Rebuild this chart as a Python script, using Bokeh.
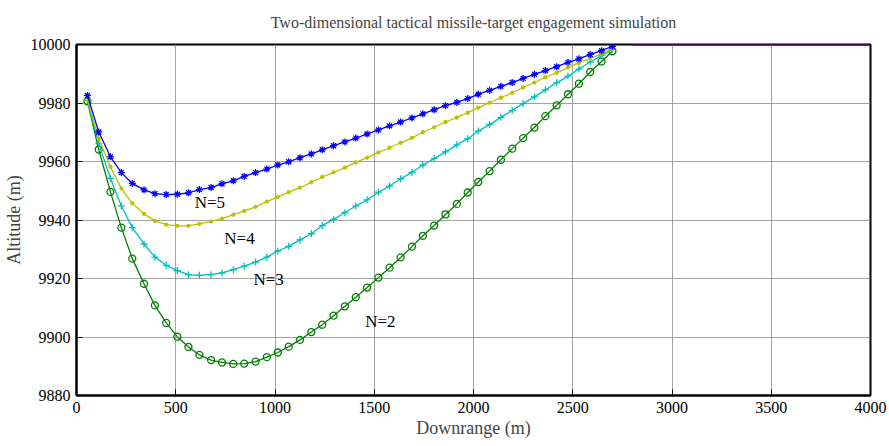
from bokeh.plotting import figure
from bokeh.models import (SingleIntervalTicker, FixedTicker, ColumnDataSource, Range1d,
                          LinearAxis)
from bokeh.core.properties import value
from bokeh.embed import file_html
from bokeh.resources import INLINE

FONT = "Liberation Serif"

downrange = [55, 112, 171, 226, 281, 340, 395, 452, 508, 564, 619, 678, 733, 790, 845, 902,
             959, 1014, 1069, 1126, 1183, 1238, 1295, 1352, 1407, 1464, 1521, 1577, 1633, 1690,
             1745, 1802, 1859, 1916, 1971, 2024, 2081, 2138, 2195, 2250, 2307, 2362, 2419, 2476,
             2531, 2588, 2645, 2700]

alt_n2 = [9980.6, 9964.1, 9949.6, 9937.4, 9926.8, 9918.2, 9910.8, 9904.8, 9900.1, 9896.6,
          9893.9, 9892.1, 9891.3, 9890.8, 9890.9, 9891.6, 9893.1, 9894.7, 9896.7, 9899.0,
          9901.7, 9904.2, 9907.3, 9910.5, 9913.6, 9916.9, 9920.3, 9923.7, 9927.2, 9930.9,
          9934.6, 9938.1, 9941.9, 9945.5, 9949.4, 9953.0, 9956.7, 9960.6, 9964.4, 9968.0,
          9971.6, 9975.5, 9979.2, 9983.0, 9986.6, 9990.6, 9994.2, 9997.7]

alt_n3 = [9981.0, 9966.1, 9954.2, 9944.8, 9937.4, 9931.8, 9927.3, 9924.5, 9922.7, 9921.3,
          9921.1, 9921.3, 9921.9, 9923.0, 9924.2, 9925.6, 9927.3, 9929.4, 9931.0, 9933.2,
          9935.3, 9938.1, 9940.2, 9942.5, 9944.8, 9946.9, 9949.5, 9951.6, 9954.1, 9956.3,
          9958.8, 9961.0, 9963.3, 9965.7, 9967.8, 9970.4, 9972.6, 9975.1, 9977.5, 9979.8,
          9982.1, 9984.5, 9986.9, 9989.2, 9991.6, 9994.0, 9996.2, 9998.5]

alt_n4 = [9981.2, 9967.8, 9958.2, 9950.8, 9945.7, 9942.1, 9939.7, 9938.4, 9938.0, 9938.0,
          9938.7, 9939.5, 9940.5, 9941.8, 9943.1, 9944.5, 9946.3, 9947.9, 9949.5, 9951.1,
          9952.9, 9954.7, 9956.3, 9957.9, 9959.7, 9961.3, 9963.1, 9964.7, 9966.4, 9968.1,
          9970.0, 9971.7, 9973.5, 9975.0, 9976.7, 9978.4, 9980.1, 9981.8, 9983.5, 9985.3,
          9987.0, 9988.8, 9990.3, 9992.2, 9993.7, 9995.3, 9996.8, 9998.5]

alt_n5 = [9982.6, 9970.1, 9961.6, 9956.2, 9952.5, 9950.3, 9949.0, 9948.7, 9948.8, 9949.3,
          9950.4, 9951.1, 9952.4, 9953.4, 9954.9, 9956.2, 9957.4, 9958.8, 9959.9, 9961.3,
          9962.6, 9964.0, 9965.4, 9966.7, 9968.0, 9969.4, 9970.8, 9972.2, 9973.5, 9974.9,
          9976.3, 9977.7, 9979.1, 9980.2, 9981.5, 9983.0, 9984.3, 9985.7, 9987.0, 9988.4,
          9989.8, 9991.1, 9992.4, 9993.9, 9995.1, 9996.6, 9997.9, 9999.4]

target_x = [2800, 4000]
target_y = [10000, 10000]

label_text = ["N=5", "N=4", "N=3", "N=2"]
label_x = [672, 821, 968, 1531]
label_y = [9946.0, 9933.7, 9919.7, 9905.4]

TITLE = "Two-dimensional tactical missile-target engagement simulation"

p = figure(frame_width=794, frame_height=351,
           min_border_left=75, min_border_right=20, min_border_top=44, min_border_bottom=51,
           x_range=Range1d(0, 4000), y_range=Range1d(9880, 10000),
           output_backend="svg", toolbar_location=None)
p.background_fill_color = "white"
p.border_fill_color = "white"
p.outline_line_color = "black"
p.outline_line_width = 2
p.outline_line_alpha = 1.0

xt = SingleIntervalTicker(interval=500)
yt = SingleIntervalTicker(interval=20)

p.axis.major_label_text_font = "serif"
p.axis.major_label_text_font_style = "normal"
p.axis.major_label_text_font_size = "16px"
p.axis.major_label_text_color = "black"
p.axis.axis_label_text_font = FONT
p.axis.axis_label_text_font_size = "18px"
p.axis.axis_label_text_font_style = "normal"
p.axis.axis_line_color = "black"
p.axis.axis_line_width = 2
p.axis.major_tick_in = 6
p.axis.major_tick_out = 0
p.axis.major_tick_line_color = "black"
p.axis.minor_tick_line_color = None
p.axis.major_label_standoff = 2

p.xaxis.ticker = xt
p.yaxis.ticker = yt
p.xaxis.axis_label = "Downrange (m)"
p.yaxis.axis_label = "Altitude (m)"
p.xaxis.axis_label_standoff = 2
p.yaxis.axis_label_standoff = 4

top = LinearAxis(ticker=FixedTicker(ticks=[]), axis_line_color=None,
                 major_tick_out=0, major_tick_in=0, minor_tick_line_color=None,
                 axis_label=TITLE, axis_label_text_font=FONT,
                 axis_label_text_font_size="16px", axis_label_text_font_style="normal",
                 axis_label_standoff=14)
p.add_layout(top, "above")

p.xgrid.ticker = xt
p.ygrid.ticker = yt
p.grid.grid_line_color = "#8c8c8c"
p.grid.grid_line_width = 1
p.grid.grid_line_alpha = 0.8

series = [
    (alt_n2, "#008000", "circle", 7, None),
    (alt_n3, "#00BFBF", "cross", 7, None),
    (alt_n4, "#BFBF00", "circle", 3, "#BFBF00"),
    (alt_n5, "#0000FF", "asterisk", 7, None),
]
for ys, col, mk, sz, fill in series:
    src = ColumnDataSource(dict(x=downrange[:len(ys)], y=ys))
    p.line("x", "y", source=src, line_color=col, line_width=1.3)
    p.scatter("x", "y", source=src, marker=mk, size=sz, line_color=col,
              fill_color=fill, line_width=1.3)

p.line(target_x, target_y, line_color="#800080", line_width=2.5)

lab = ColumnDataSource(dict(x=label_x, y=label_y, t=label_text))
p.text("x", "y", text="t", source=lab, text_font=value(FONT), text_font_size="17px",
       text_align="center", text_baseline="middle", text_color="black")

open("out.html", "w").write(file_html(p, INLINE))
